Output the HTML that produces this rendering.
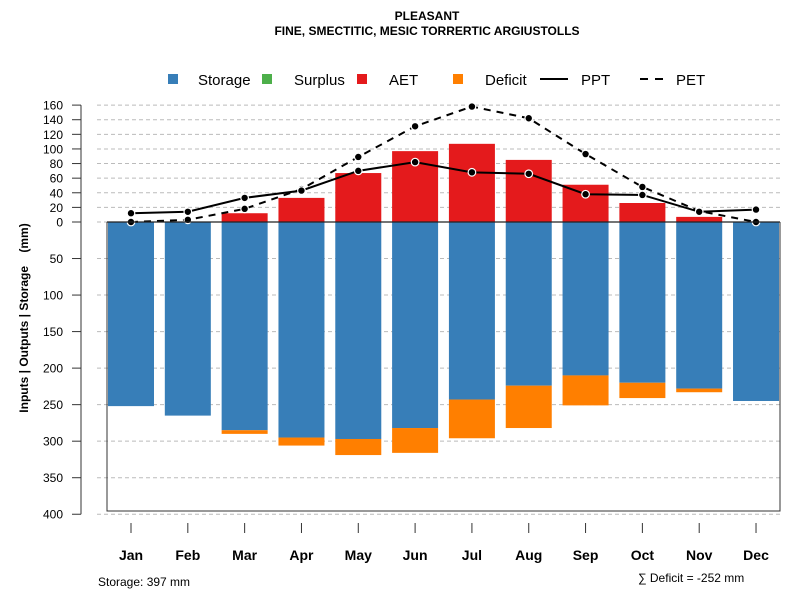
<!DOCTYPE html>
<html><head><meta charset="utf-8"><style>
body{margin:0;background:#fff}
svg{display:block;font-family:"Liberation Sans",sans-serif}
</style></head><body>
<svg id="chart" width="800" height="600" viewBox="0 0 800 600">
<text x="427" y="20" text-anchor="middle" font-size="12" font-weight="bold">PLEASANT</text>
<text x="427" y="35" text-anchor="middle" font-size="12" font-weight="bold">FINE, SMECTITIC, MESIC TORRERTIC ARGIUSTOLLS</text>
<g font-size="15">
<g><rect x="168" y="74" width="10" height="10" fill="#377EB8"/><text x="198" y="85">Storage</text></g>
<g><rect x="262" y="74" width="10" height="10" fill="#4DAF4A"/><text x="294" y="85">Surplus</text></g>
<g><rect x="357" y="74" width="10" height="10" fill="#E41A1C"/><text x="389" y="85">AET</text></g>
<g><rect x="453" y="74" width="10" height="10" fill="#FF7F00"/><text x="485" y="85">Deficit</text></g>
<g><line x1="540" y1="79" x2="568" y2="79" stroke="#000" stroke-width="2"/><text x="581" y="85">PPT</text></g>
<g><line x1="640" y1="79" x2="668" y2="79" stroke="#000" stroke-width="2" stroke-dasharray="8,7"/><text x="676" y="85">PET</text></g>
</g>
<text transform="translate(28,318) rotate(-90)" text-anchor="middle" font-size="12" font-weight="bold" xml:space="preserve">Inputs | Outputs | Storage    (mm)</text>
<g id="grid"></g><g id="bars"></g><g id="lines"></g><g id="axes"></g>
<text x="98" y="586" font-size="12">Storage: 397 mm</text>
<text x="638" y="582" font-size="12">∑ Deficit = -252 mm</text>
</svg>
<script>
const months=["Jan","Feb","Mar","Apr","May","Jun","Jul","Aug","Sep","Oct","Nov","Dec"];
const storage=[252,265,285,295,297,282,243,224,210,220,228,245];
const deficit=[0,0,5,11,22,34,53,58,41,21,5,0];
const aet=[0,0,12,33,67,97,107,85,51,26,7,0];
const ppt=[12,14,33,43,70,82,68,66,38,37,14,17];
const pet=[0,3,18,45,89,131,158,142,93,48,15,0];
const posTicks=[20,40,60,80,100,120,140,160];
const negTicks=[0,50,100,150,200,250,300,350,400];
const NS="http://www.w3.org/2000/svg";
const y0=222,k=0.7306;
function yv(v){return y0-v*k;}
function xm(i){return 131+i*56.82;}
function mk(t,a,p){const e=document.createElementNS(NS,t);for(const q in a)e.setAttribute(q,a[q]);p.appendChild(e);return e;}
const grid=document.getElementById('grid'),bars=document.getElementById('bars'),lines=document.getElementById('lines'),axes=document.getElementById('axes');
posTicks.forEach(v=>{const l=mk('line',{x1:97,x2:780,y1:yv(v),y2:yv(v),stroke:'#bbb','stroke-dasharray':'4,3'},grid);

});
negTicks.forEach(v=>{const l=mk('line',{x1:97,x2:780,y1:yv(-v),y2:yv(-v),stroke:'#bbb','stroke-dasharray':'4,3'},grid);

});
const bw=46;
months.forEach((m,i)=>{const x=xm(i)-bw/2;
const s=mk('rect',{x:x,y:y0,width:bw,height:storage[i]*k,fill:'#377EB8'},bars);


if(deficit[i]>0){const d=mk('rect',{x:x,y:yv(-storage[i]),width:bw,height:deficit[i]*k,fill:'#FF7F00'},bars);

}
if(aet[i]>0){const a=mk('rect',{x:x,y:yv(aet[i]),width:bw,height:aet[i]*k,fill:'#E41A1C'},bars);

}
});
const bx=mk('path',{d:'M107,222 V511 H780 V222',fill:'none',stroke:'#333','stroke-width':1},axes);


const zl=mk('line',{x1:107,x2:780,y1:y0,y2:y0,stroke:'#222','stroke-width':1.3},axes);


function series(arr,dash,name){
const pl=mk('polyline',{points:arr.map((v,i)=>xm(i)+','+yv(v)).join(' '),fill:'none',stroke:'#000','stroke-width':2,'stroke-dasharray':dash},lines);


arr.forEach((v,i)=>{const c=mk('circle',{cx:xm(i),cy:yv(v),r:3.8,fill:'#000',stroke:'#fff','stroke-width':1.2},lines);

});}
series(pet,'7,6','pet');series(ppt,'none','ppt');
mk('line',{x1:81,x2:81,y1:yv(160),y2:yv(-400),stroke:'#333'},axes);
posTicks.concat([0]).forEach(v=>{mk('line',{x1:72,x2:81,y1:yv(v),y2:yv(v),stroke:'#333'},axes);
const t=mk('text',{x:63,y:yv(v)+4.5,'text-anchor':'end','font-size':12},axes);t.textContent=v;

});
negTicks.slice(1).forEach(v=>{mk('line',{x1:72,x2:81,y1:yv(-v),y2:yv(-v),stroke:'#333'},axes);
const t=mk('text',{x:63,y:yv(-v)+4.5,'text-anchor':'end','font-size':12},axes);t.textContent=v;

});
months.forEach((m,i)=>{mk('line',{x1:xm(i),x2:xm(i),y1:523,y2:533,stroke:'#333'},axes);
const t=mk('text',{x:xm(i),y:560,'text-anchor':'middle','font-size':14,'font-weight':'bold'},axes);t.textContent=m;

});
</script>
</body></html>
